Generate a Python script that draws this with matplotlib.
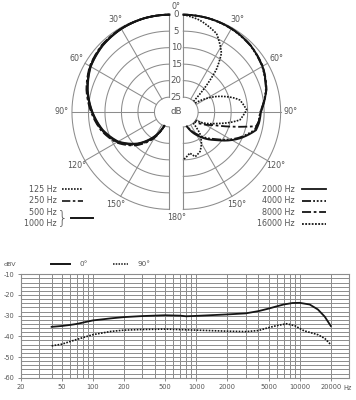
import numpy as np
import matplotlib
matplotlib.use('Agg')
import matplotlib.pyplot as plt
from matplotlib.ticker import FixedLocator, NullFormatter

plt.rcParams['font.family'] = ['Liberation Sans Narrow', 'DejaVu Sans']
plt.rcParams['axes.unicode_minus'] = False

# ---------------- data ----------------
RING_DB = [0, 5, 10, 15, 20, 25]
RADIAL_DEG = [30, 60, 90, 120, 150]

# left half (angles measured from front, drawn mirrored on the left)
LEFT_ANG = [0, 15, 30, 45, 60, 75, 90, 105, 120, 135, 150, 160]
DB_125 = [0, 0.1, 0.3, 0.8, 1.8, 3.7, 6.0, 8.3, 11.3, 15.5, 20.8, 25]
DB_250 = [0, 0.1, 0.3, 0.7, 1.7, 3.5, 5.8, 8.1, 11.0, 15.2, 20.4, 25]
DB_500 = [0, 0.1, 0.4, 0.9, 1.9, 3.8, 6.1, 8.4, 11.4, 15.8, 21.0, 25]
DB_1000 = [0, 0.1, 0.4, 1.0, 2.0, 3.9, 6.2, 8.6, 11.6, 16.0, 21.3, 25]

# right half
ANG_2000 = [0, 15, 30, 45, 60, 75, 90, 98, 104, 115, 130, 146, 160, 166]
DB_2000 = [0, 0.1, 0.3, 0.8, 1.8, 3.5, 6.0, 6.3, 6.8, 10.6, 16.3, 20.5, 23.7, 25]
ANG_4000 = [0, 15, 30, 45, 60, 75, 90, 98, 104, 115, 130, 146, 160, 166]
DB_4000 = [0, 0.1, 0.4, 0.9, 1.9, 3.6, 6.2, 6.6, 7.2, 11.0, 16.8, 21.0, 24.0, 25]
ANG_8000 = [0, 15, 30, 45, 60, 75, 90, 98, 101, 103.4, 106.4, 110, 113.4, 122, 131]
DB_8000 = [0, 0.1, 0.3, 0.8, 1.7, 3.4, 6.2, 6.5, 7.0, 10.3, 13.8, 17.1, 19.6, 22.5, 25]
ANG_16000 = [0, 10, 23, 33, 38, 42, 44, np.nan,
             53, 65, 74, 78, 88, 98, 109, 125, np.nan,
             138, 142, 150, 157, 165, 171, 180]
DB_16000 = [0, 1.2, 3.7, 8.3, 13.3, 20.5, 25, np.nan,
            25, 18.4, 13.8, 12.0, 10.3, 12.2, 18.9, 25, np.nan,
            25, 21.4, 18.5, 16.5, 15.5, 16.9, 15.0]

# frequency response
FREQ_0 = [40, 50, 60, 70, 100, 150, 200, 300, 500, 700, 800, 1000, 2000, 3000,
          4000, 5000, 6000, 7000, 8500, 10000, 12500, 15000, 17500, 20000]
RESP_0 = [-35.4, -35.0, -34.5, -34.0, -32.3, -31.3, -30.7, -30.2, -29.8, -30.0,
          -30.3, -30.1, -29.4, -28.9, -27.8, -26.6, -25.5, -24.6, -23.9, -23.8,
          -24.6, -27.0, -30.5, -35.0]
FREQ_90 = [40, 50, 70, 100, 150, 200, 300, 500, 1000, 2000, 3000, 4000, 5000,
           6000, 7500, 9000, 11000, 15000, 17500, 20000]
RESP_90 = [-44.6, -43.8, -41.5, -39.2, -37.6, -37.0, -36.7, -36.5, -37.0, -37.5,
           -37.7, -37.2, -35.8, -34.8, -33.9, -34.9, -37.3, -39.2, -41.0, -44.0]

X_TICKS = [20, 50, 100, 200, 500, 1000, 2000, 5000, 10000, 20000]
Y_TICKS = [-10, -20, -30, -40, -50, -60]

# ---------------- figure ----------------
W, H, DPI = 356, 400, 100
fig = plt.figure(figsize=(W / DPI, H / DPI), dpi=DPI)
fig.patch.set_facecolor('white')

TXT = '#555555'
GRID = '#8c8c8c'
INK = '#151515'

KPX = 3.3      # px per dB
R0 = 29.5      # dB at centre
RMIN = -4.0    # dB at edge of axes
rad_px = KPX * (R0 - RMIN)
CY = 112.0


def polar_ax(cx):
    w = 2 * rad_px / W
    h = 2 * rad_px / H
    ax = fig.add_axes([cx / W - w / 2, 1 - CY / H - h / 2, w, h],
                      projection='polar')
    ax.set_theta_zero_location('N')
    ax.set_theta_direction(-1)
    ax.set_rlim(R0, RMIN)
    ax.set_facecolor('none')
    ax.grid(False)
    ax.set_xticks([])
    ax.set_yticks([])
    ax.spines['polar'].set_visible(False)
    return ax


def smooth(lines):
    # draw segments as spirals in (theta, r) instead of straight chords
    for ln in lines:
        ln.get_path()._interpolation_steps = 24


axL = polar_ax(169.3)
axR = polar_ax(183.3)
axM = polar_ax(176.3)

for ax, (t0, t1), sign in ((axL, (180, 360), -1), (axR, (0, 180), 1)):
    th = np.radians(np.linspace(t0, t1, 241))
    for db in RING_DB:
        ax.plot(th, np.full_like(th, db), color=GRID, lw=0.75, zorder=1)
    for a in RADIAL_DEG:
        t = np.radians(a if sign > 0 else 360 - a)
        ax.plot([t, t], [RING_DB[-1], RING_DB[0]], color=GRID, lw=0.75, zorder=1)
    for a in (0, 180):
        t = np.radians(a)
        ax.plot([t, t], [RING_DB[-1], RING_DB[0]], color=GRID, lw=0.8, zorder=1)
    for a in RADIAL_DEG:
        t = np.radians(a if sign > 0 else 360 - a)
        ax.text(t, -3.0, f'{a}°', ha='center', va='center', fontsize=5.8, color=TXT)

for db in RING_DB:
    axM.text(0, db, str(db), ha='center', va='center', fontsize=6.2, color=TXT)
axM.text(0, -2.6, '0°', ha='center', va='center', fontsize=5.8, color=TXT)
axM.text(np.pi, -2.6, '180°', ha='center', va='center', fontsize=5.8, color=TXT)
axM.text(0, R0, 'dB', ha='center', va='center', fontsize=6.2, color=TXT)


def left(ang):
    return np.radians(360 - np.asarray(ang, dtype=float))


smooth(axL.plot(left(LEFT_ANG), DB_125, color=INK, lw=1.3, ls=(0, (1, 0.8)), zorder=3))
smooth(axL.plot(left(LEFT_ANG), DB_250, color=INK, lw=1.3, ls=(0, (5, 1.5, 1.5, 1.5)), zorder=3))
smooth(axL.plot(left(LEFT_ANG), DB_500, color=INK, lw=1.4, zorder=3))
smooth(axL.plot(left(LEFT_ANG), DB_1000, color=INK, lw=1.4, zorder=3))

smooth(axR.plot(np.radians(ANG_2000), DB_2000, color=INK, lw=1.4, zorder=3))
smooth(axR.plot(np.radians(ANG_4000), DB_4000, color=INK, lw=1.3,
                ls=(0, (5, 1.2, 1, 1, 1, 1, 1, 1.2)), zorder=3))
smooth(axR.plot(np.radians(ANG_8000), DB_8000, color=INK, lw=1.3,
                ls=(0, (5, 1.5, 1.5, 1.5)), zorder=3))
smooth(axR.plot(np.radians(ANG_16000), DB_16000, color=INK, lw=1.2,
                ls=(0, (1, 0.8)), zorder=3))

# ---------------- decoration overlay (legends) ----------------
deco = fig.add_axes([0, 0, 1, 1])
deco.set_xlim(0, W)
deco.set_ylim(H, 0)
deco.axis('off')
deco.patch.set_alpha(0)

LEG_Y = [189.0, 200.7, 212.3, 223.7]
leg_left = ['125 Hz', '250 Hz', '500 Hz', '1000 Hz']
for y, s in zip(LEG_Y, leg_left):
    deco.text(57, y, s, ha='right', va='center', fontsize=5.8, color=TXT)
deco.plot([62, 83], [LEG_Y[0]] * 2, color=INK, lw=1.2, ls=(0, (1, 0.8)))
deco.plot([62, 83], [LEG_Y[1]] * 2, color=INK, lw=1.2, ls=(0, (5, 1.5, 1.5, 1.5)))
deco.text(63, (LEG_Y[2] + LEG_Y[3]) / 2, '}', ha='center', va='center',
          fontsize=13, color=TXT, family='DejaVu Sans', fontweight='light')
deco.plot([71, 93], [217.7] * 2, color=INK, lw=1.4)

leg_right = ['2000 Hz', '4000 Hz', '8000 Hz', '16000 Hz']
styles_right = ['-', (0, (5, 1.2, 1, 1, 1, 1, 1, 1.2)), (0, (5, 1.5, 1.5, 1.5)), (0, (1, 0.8))]
for y, s, st in zip(LEG_Y, leg_right, styles_right):
    deco.text(295, y, s, ha='right', va='center', fontsize=5.8, color=TXT)
    deco.plot([301.7, 325.7], [y, y], color=INK, lw=1.3, ls=st)

deco.text(4, 264.5, 'dBV', ha='left', va='center', fontsize=4.6, color=TXT)
deco.plot([51, 70], [264.3, 264.3], color=INK, lw=1.4)
deco.text(80, 264.3, '0°', ha='left', va='center', fontsize=5.2, color=TXT)
deco.plot([113, 128], [264.3, 264.3], color=INK, lw=1.1, ls=(0, (1, 0.8)))
deco.text(138, 264.3, '90°', ha='left', va='center', fontsize=5.2, color=TXT)

# ---------------- frequency response ----------------
axb = fig.add_axes([20.5 / W, 1 - 377.7 / H, 328.5 / W, 103.4 / H])
axb.set_xscale('log')
axb.set_xlim(20, 30000)
axb.set_ylim(-60, -10)

minor_x = [m * 10 ** e for e in range(1, 5) for m in range(1, 10)
           if 20 <= m * 10 ** e <= 20000 and m * 10 ** e not in X_TICKS]
axb.xaxis.set_major_locator(FixedLocator(X_TICKS))
axb.xaxis.set_minor_locator(FixedLocator(minor_x))
axb.xaxis.set_minor_formatter(NullFormatter())
axb.set_xticklabels([str(v) for v in X_TICKS])
axb.yaxis.set_major_locator(FixedLocator(Y_TICKS))
axb.yaxis.set_minor_locator(FixedLocator(list(range(-58, -10, 2))))
axb.set_yticklabels([str(v) for v in Y_TICKS])
axb.grid(True, which='both', color=GRID, lw=0.7)
axb.set_axisbelow(True)
for sp in axb.spines.values():
    sp.set_color(GRID)
    sp.set_linewidth(0.8)
axb.tick_params(which='both', length=2.5, width=0.7, color=GRID,
                labelsize=4.8, labelcolor=TXT, pad=2)
axb.tick_params(which='minor', length=0)

axb.plot(FREQ_0, RESP_0, color=INK, lw=1.3, zorder=3)
axb.plot(FREQ_90, RESP_90, color=INK, lw=1.2, ls=(0, (1, 0.8)), zorder=3)
axb.annotate('Hz', xy=(1.0, 0), xycoords='axes fraction', xytext=(-1, -7.5),
             textcoords='offset points', ha='center', va='center',
             fontsize=4.8, color=TXT)

fig.savefig('out.png', dpi=DPI, facecolor='white')
